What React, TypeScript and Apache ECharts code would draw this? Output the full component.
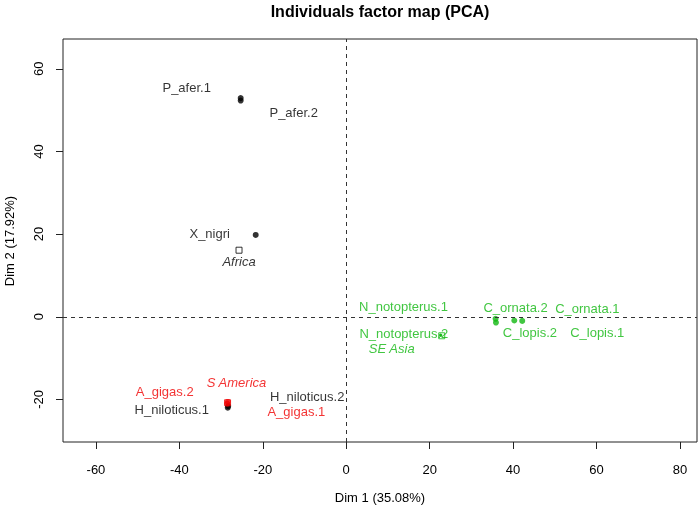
import React, { useEffect, useRef } from "react";
import * as echarts from "echarts";

// Individuals (Dim 1, Dim 2), per group
const africaNames = ["P_afer.1", "P_afer.2", "X_nigri", "H_niloticus.1", "H_niloticus.2"];
const africaDim1 = [-25.3, -25.3, -21.7, -28.4, -28.3];
const africaDim2 = [52.9, 52.3, 19.8, -22.0, -21.6];

const samericaNames = ["A_gigas.1", "A_gigas.2"];
const samericaDim1 = [-28.5, -28.4];
const samericaDim2 = [-21.0, -20.6];

const seasiaNames = ["N_notopterus.1", "N_notopterus.2", "C_ornata.2", "C_lopis.2", "C_ornata.1", "C_lopis.1"];
const seasiaDim1 = [22.6, 22.7, 35.8, 35.9, 40.3, 42.2];
const seasiaDim2 = [-4.4, -4.5, -0.5, -1.4, -0.9, -1.0];

// Group barycentres (supplementary categories)
const groupNames = ["Africa", "S America", "SE Asia"];
const groupDim1 = [-25.7, -28.45, 22.9];
const groupDim2 = [16.1, -20.8, -4.6];

const xTicks = [-60, -40, -20, 0, 20, 40, 60, 80];
const yTicks = [-20, 0, 20, 40, 60];

const titleText = "Individuals factor map (PCA)";
const xTitle = "Dim 1 (35.08%)";
const yTitle = "Dim 2 (17.92%)";

// label placement (pixel offsets from the point), style only
const labelOffsets: Record<string, [number, number]> = {
  "P_afer.1": [-54, -11],
  "P_afer.2": [53, 12],
  X_nigri: [-46, -1],
  "H_niloticus.1": [-56, 2],
  "H_niloticus.2": [79, -10],
  "A_gigas.1": [69, 8],
  "A_gigas.2": [-63, -10],
  "N_notopterus.1": [-37, -28],
  "N_notopterus.2": [-37, -2],
  "C_ornata.2": [20, -11],
  "C_lopis.2": [34, 10],
  "C_ornata.1": [73, -12],
  "C_lopis.1": [75, 12],
  Africa: [0, 11],
  "S America": [9, -20],
  "SE Asia": [-50, 13],
};
// marker sizes that differ from the default (style only)
const symbolSizes: Record<string, number> = {
  "N_notopterus.1": 3,
  "N_notopterus.2": 3,
};

const FONT = "'Liberation Sans', Arial, sans-serif";
const BLACK = "#000000";
const RED = "#f00000";
const GREEN = "#12b812";
const groupColors = [BLACK, RED, GREEN];
const FS = 13;

function pointData(names: string[], xs: number[], ys: number[], italic = false) {
  return names.map((n, i) => {
    const d: any = {
      name: n,
      value: [xs[i], ys[i]],
      label: { offset: labelOffsets[n] || [0, 0], fontStyle: italic ? "italic" : "normal" },
    };
    if (symbolSizes[n]) d.symbolSize = symbolSizes[n];
    return d;
  });
}

function pointSeries(names: string[], xs: number[], ys: number[], color: string) {
  return {
    type: "scatter",
    symbol: "circle",
    symbolSize: 6,
    itemStyle: { color },
    label: {
      show: true,
      position: "inside",
      formatter: "{b}",
      color,
      fontSize: FS,
      fontFamily: FONT,
    },
    data: pointData(names, xs, ys),
    z: 3,
  };
}

export default function App() {
  const ref = useRef<HTMLDivElement>(null);
  useEffect(() => {
    if (!ref.current) return;
    const chart = echarts.init(ref.current, undefined, { renderer: "svg" });
    const groupSeries = groupNames.map((g, i) => ({
      type: "scatter",
      symbol: "rect",
      symbolSize: 6,
      itemStyle: { color: "rgba(0,0,0,0)", borderColor: groupColors[i], borderWidth: 1 },
      label: {
        show: true,
        position: "inside",
        formatter: "{b}",
        color: groupColors[i],
        fontSize: FS,
        fontStyle: "italic",
        fontFamily: FONT,
      },
      data: pointData([g], [groupDim1[i]], [groupDim2[i]], true),
      z: 4,
    }));
    chart.setOption({
      animation: false,
      textStyle: { fontFamily: FONT },
      grid: {
        left: 63,
        top: 39,
        right: 3,
        bottom: 67,
        show: true,
        borderColor: "#222",
        borderWidth: 1,
        backgroundColor: "transparent",
      },
      xAxis: {
        type: "value",
        min: -67.9,
        max: 84.1,
        splitLine: { show: false },
        axisLine: { show: false, onZero: false },
        axisTick: { show: true, length: 7, customValues: xTicks, lineStyle: { color: "#222" } },
        axisLabel: { customValues: xTicks, margin: 21, fontSize: FS, color: BLACK, fontFamily: FONT },
      },
      yAxis: {
        type: "value",
        min: -30.3,
        max: 67.2,
        splitLine: { show: false },
        axisLine: { show: false, onZero: false },
        axisTick: { show: true, length: 7, customValues: yTicks, lineStyle: { color: "#222" } },
        axisLabel: { customValues: yTicks, margin: 18, rotate: 90, fontSize: FS, color: BLACK, fontFamily: FONT },
      },
      graphic: [
        {
          type: "text",
          x: 380,
          y: 11,
          style: { text: titleText, align: "center", verticalAlign: "middle", fontSize: 16, fontWeight: "bold", fontFamily: FONT, fill: BLACK },
        },
        {
          type: "text",
          x: 380,
          y: 497,
          style: { text: xTitle, align: "center", verticalAlign: "middle", fontSize: FS, fontFamily: FONT, fill: BLACK },
        },
        {
          type: "text",
          x: 9,
          y: 241,
          rotation: Math.PI / 2,
          style: { text: yTitle, align: "center", verticalAlign: "middle", fontSize: FS, fontFamily: FONT, fill: BLACK },
        },
      ],
      series: [
        {
          type: "scatter",
          data: [],
          markLine: {
            silent: true,
            symbol: "none",
            label: { show: false },
            lineStyle: { color: "#333", type: [4, 4], width: 1 },
            data: [{ xAxis: 0 }, { yAxis: 0 }],
          },
        },
        pointSeries(africaNames, africaDim1, africaDim2, BLACK),
        pointSeries(samericaNames, samericaDim1, samericaDim2, RED),
        pointSeries(seasiaNames, seasiaDim1, seasiaDim2, GREEN),
        ...groupSeries,
      ],
    });
    return () => chart.dispose();
  }, []);
  return <div ref={ref} style={{ position: "fixed", left: 0, top: 0, width: 700, height: 509 }} />;
}
